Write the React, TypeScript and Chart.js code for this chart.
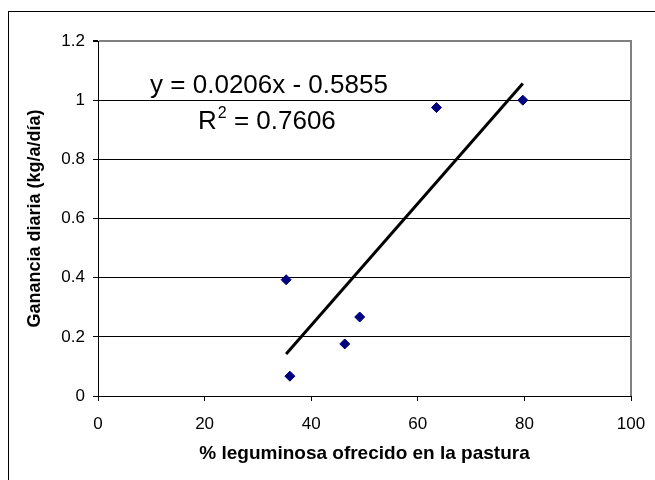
import React, { useEffect, useRef } from "react";
import { Chart, registerables } from "chart.js";

Chart.register(...registerables);

// % legume offered in the pasture vs. daily weight gain
const legumePct = [35.3, 36.0, 46.3, 49.1, 63.5, 79.7];
const dailyGain = [0.393, 0.067, 0.176, 0.267, 0.975, 1.0];

// fitted linear trend
const trendSlope = 0.0206;
const trendIntercept = -0.5855;
const trendR2 = 0.7606;

const xTickValues = [0, 20, 40, 60, 80, 100];
const yTickValues = [0, 0.2, 0.4, 0.6, 0.8, 1, 1.2];

const xTitle = "% leguminosa ofrecido en la pastura";
const yTitle = "Ganancia diaria (kg/a/día)";

const FONT = "Arial, 'Liberation Sans', sans-serif";

const frameAndLabels = {
  id: "frameAndLabels",
  afterDraw(chart: any) {
    const { ctx, chartArea } = chart;
    ctx.save();
    // outer chart frame
    ctx.strokeStyle = "#000";
    ctx.lineWidth = 1;
    ctx.strokeRect(8.5, 11.5, 800, 600);
    // grey plot-area edge on the right
    ctx.strokeStyle = "#808080";
    ctx.lineWidth = 2;
    ctx.beginPath();
    ctx.moveTo(chartArea.right, chartArea.top - 1);
    ctx.lineTo(chartArea.right, chartArea.bottom);
    ctx.stroke();

    // trendline equation
    ctx.fillStyle = "#000";
    ctx.textBaseline = "alphabetic";
    ctx.font = `26px ${FONT}`;
    ctx.textAlign = "center";
    const slopeTxt = trendSlope.toFixed(4);
    const icptTxt = Math.abs(trendIntercept).toFixed(4);
    ctx.fillText(`y = ${slopeTxt}x - ${icptTxt}`, 269, 93);

    ctx.textAlign = "left";
    let x = 198;
    const y = 129;
    ctx.fillText("R", x, y);
    x += ctx.measureText("R").width;
    ctx.font = `16px ${FONT}`;
    ctx.fillText("2", x + 1, y - 11);
    x += ctx.measureText("2").width + 1;
    ctx.font = `26px ${FONT}`;
    ctx.fillText(` = ${trendR2.toFixed(4)}`, x, y);
    ctx.restore();
  },
};

export default function App() {
  const canvasRef = useRef<HTMLCanvasElement | null>(null);

  useEffect(() => {
    if (!canvasRef.current) return;
    const xMin = Math.min(...legumePct);
    const xMax = Math.max(...legumePct);
    const trendPts = [xMin, xMax].map((v) => ({ x: v, y: trendSlope * v + trendIntercept }));

    const chart = new Chart(canvasRef.current, {
      type: "scatter",
      data: {
        datasets: [
          {
            data: legumePct.map((v, i) => ({ x: v, y: dailyGain[i] })),
            pointStyle: "rectRot",
            pointRadius: 5,
            backgroundColor: "#000080",
            borderColor: "#000080",
            borderWidth: 1,
            order: 1,
          },
          {
            data: trendPts,
            showLine: true,
            pointRadius: 0,
            borderColor: "#000",
            borderWidth: 3,
            order: 0,
          } as any,
        ],
      },
      options: {
        animation: false,
        responsive: false,
        devicePixelRatio: 1,
        layout: { padding: { left: 0, top: 41, right: 24, bottom: 0 } },
        plugins: { legend: { display: false }, tooltip: { enabled: false } },
        scales: {
          x: {
            type: "linear",
            min: 0,
            max: 100,
            afterBuildTicks: (s: any) => {
              s.ticks = xTickValues.map((v) => ({ value: v }));
            },
            afterFit: (s: any) => {
              s.height = 84;
              s.paddingLeft = 0;
              s.paddingRight = 0;
            },
            grid: { drawOnChartArea: false, tickLength: 5, tickColor: "#000" },
            border: { color: "#000", width: 1 },
            ticks: {
              color: "#000",
              font: { family: FONT, size: 17 },
              padding: 13,
              maxRotation: 0,
              callback: (v: any) => String(v),
            },
            title: {
              display: true,
              text: xTitle,
              color: "#000",
              font: { family: FONT, size: 19, weight: "bold" },
              padding: { top: 0, bottom: 15 },
            },
          },
          y: {
            type: "linear",
            min: 0,
            max: 1.2,
            afterBuildTicks: (s: any) => {
              s.ticks = yTickValues.map((v) => ({ value: v }));
            },
            afterFit: (s: any) => {
              s.width = 98;
              s.paddingTop = 0;
              s.paddingBottom = 0;
            },
            grid: {
              color: (c: any) => (c.tick && c.tick.value === 1.2 ? "#808080" : "#000"),
              lineWidth: (c: any) => (c.tick && c.tick.value === 1.2 ? 2 : 1),
              tickLength: 5,
              tickColor: "#000",
            },
            border: { color: "#000", width: 1 },
            ticks: {
              color: "#000",
              font: { family: FONT, size: 17 },
              padding: 8,
              callback: (v: any) => String(v),
            },
            title: {
              display: true,
              text: yTitle,
              color: "#000",
              font: { family: FONT, size: 18, weight: "bold" },
              padding: { top: 24, bottom: 0 },
            },
          },
        },
      },
      plugins: [frameAndLabels],
    });
    return () => chart.destroy();
  }, []);

  return (
    <div style={{ position: "fixed", left: 0, top: 0, width: 655, height: 480, background: "#fff" }}>
      <canvas ref={canvasRef} width={655} height={480} style={{ display: "block" }} />
    </div>
  );
}
